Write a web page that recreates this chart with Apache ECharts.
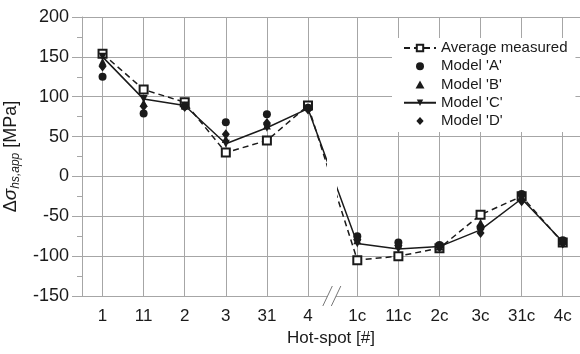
<!DOCTYPE html>
<html>
<head>
<meta charset="utf-8">
<script src="https://cdn.jsdelivr.net/npm/echarts@6.0.0/dist/echarts.min.js"></script>
<style>
html, body { margin: 0; padding: 0; background: #fff; }
#chart { width: 580px; height: 354px; }
</style>
</head>
<body>
<div id="chart"></div>
<script>
// hot-spots, first group then the "c" group (after the axis break)
var hotSpots = ['1', '11', '2', '3', '31', '4', '1c', '11c', '2c', '3c', '31c', '4c'];
var avgMeasured = [154, 109, 93, 30, 45, 89, -105, -100, -90, -48, -25, -83];
var modelA = [125, 79, 88, 68, 78, 86, -75, -83, -86, -64, -22, -80];
var modelB = [144, 92, 89, 47, 64, 87, -80, -86, -88, -58, -25, -81];
var modelC = [150, 97, 89, 41, 61, 85, -84, -91, -88, -67, -28, -82];
var modelD = [138, 88, 87, 53, 67, 84, -79, -87, -89, -71, -31, -84];

var BREAK_GAP = 0.2;   // extra space where the axis is broken
var BREAK_AT = 6.58;   // middle of the break, between '4' and '1c'
var xPos = hotSpots.map(function (name, i) {
    return i + 1 + (i >= 6 ? BREAK_GAP : 0);
});

function pairs(vals) {
    return vals.map(function (v, i) { return [xPos[i], v]; });
}

function labelFor(val) {
    var best = 0;
    for (var i = 1; i < xPos.length; i++) {
        if (Math.abs(xPos[i] - val) < Math.abs(xPos[best] - val)) best = i;
    }
    return hotSpots[best];
}

var ink = '#1a1a1a';
var gridColor = '#a6a6a6';
var font = 'Liberation Sans';

// legend icons as paths so they are not stretched to the item width
var triIcon = 'path://M5,0 L10,9 L0,9 Z';
var diaIcon = 'path://M5,0 L10,5.5 L5,11 L0,5.5 Z';

var chart = echarts.init(document.getElementById('chart'));

var option = {
    animation: false,
    grid: { left: 82, right: 0, top: 17, bottom: 58, outerBoundsMode: 'none' },
    legend: {
        orient: 'vertical',
        left: 392,
        top: 38,
        backgroundColor: '#fff',
        padding: [2, 8, 3, 11],
        itemWidth: 32,
        itemHeight: 8,
        itemGap: 2.25,
        textStyle: { fontSize: 15, lineHeight: 16, color: ink, fontFamily: font },
        data: [
            'Average measured',
            "Model 'A'",
            { name: "Model 'B'", icon: triIcon },
            "Model 'C'",
            { name: "Model 'D'", icon: diaIcon }
        ]
    },
    // hides the connecting lines inside the axis break
    visualMap: {
        show: false,
        dimension: 0,
        seriesIndex: [0, 3],
        pieces: [
            { lt: BREAK_AT - 0.12, color: ink },
            { gte: BREAK_AT - 0.12, lt: BREAK_AT + 0.12, color: 'rgba(255,255,255,0)' },
            { gte: BREAK_AT + 0.12, color: ink }
        ]
    },
    xAxis: {
        type: 'value',
        min: 0.5,
        max: 12.62,
        name: 'Hot-spot [#]',
        nameLocation: 'middle',
        nameGap: 33,
        nameTextStyle: { fontSize: 17, color: ink, fontFamily: font },
        axisLine: { show: true, lineStyle: { color: gridColor, width: 1 } },
        axisTick: { show: true, length: 10, customValues: xPos, lineStyle: { color: gridColor } },
        axisLabel: {
            customValues: xPos,
            margin: 12,
            fontSize: 17,
            color: ink,
            fontFamily: font,
            formatter: function (val) { return labelFor(val); }
        },
        splitLine: { show: true, lineStyle: { color: gridColor, width: 1 } }
    },
    yAxis: {
        type: 'value',
        min: -150,
        max: 200,
        interval: 50,
        name: '{n|Δ}{i|σ}{s|hs,app}{n| [MPa]}',
        nameLocation: 'middle',
        nameGap: 44,
        nameTextStyle: {
            color: ink,
            fontFamily: font,
            rich: {
                n: { fontSize: 18, color: ink, fontFamily: font, lineHeight: 22 },
                i: { fontSize: 19, fontStyle: 'italic', color: ink, fontFamily: font, lineHeight: 22 },
                s: { fontSize: 12, fontStyle: 'italic', color: ink, fontFamily: font, lineHeight: 13, verticalAlign: 'bottom' }
            }
        },
        axisLine: { show: true, lineStyle: { color: gridColor, width: 1 } },
        axisTick: { show: true, length: 10, lineStyle: { color: gridColor } },
        minorTick: { show: true, splitNumber: 2, length: 5, lineStyle: { color: gridColor } },
        axisLabel: { margin: 13, fontSize: 18, color: ink, fontFamily: font },
        splitLine: { show: true, lineStyle: { color: gridColor, width: 1 } }
    },
    series: [
        {
            name: 'Average measured',
            type: 'line',
            data: pairs(avgMeasured),
            symbol: 'emptyRect',
            symbolSize: 8,
            z: 1,
            itemStyle: { color: ink, borderWidth: 1 },
            lineStyle: { width: 1.5, type: [6, 4] }
        },
        {
            name: "Model 'A'",
            type: 'scatter',
            data: pairs(modelA),
            symbol: 'circle',
            symbolSize: 8,
            itemStyle: { color: ink, opacity: 1 }
        },
        {
            name: "Model 'B'",
            type: 'scatter',
            data: pairs(modelB),
            symbol: 'triangle',
            symbolSize: 8,
            itemStyle: { color: ink, opacity: 1 }
        },
        {
            name: "Model 'C'",
            type: 'line',
            data: pairs(modelC),
            symbol: 'triangle',
            symbolRotate: 180,
            symbolSize: 8,
            itemStyle: { color: ink },
            lineStyle: { width: 1.5 }
        },
        {
            name: "Model 'D'",
            type: 'scatter',
            data: pairs(modelD),
            symbol: 'diamond',
            symbolSize: [8, 10],
            itemStyle: { color: ink, opacity: 1 }
        }
    ]
};

chart.setOption(option);

// the "//" break mark on the bottom axis
var p = chart.convertToPixel({ gridIndex: 0 }, [BREAK_AT, -150]);
chart.setOption({
    graphic: [
        { type: 'rect', z: 10, shape: { x: p[0] - 4, y: p[1] - 2, width: 8, height: 4 }, style: { fill: '#fff' } },
        { type: 'line', z: 11, shape: { x1: p[0] - 9, y1: p[1] + 10, x2: p[0] + 0.5, y2: p[1] - 10 }, style: { stroke: '#777', lineWidth: 1 } },
        { type: 'line', z: 11, shape: { x1: p[0] - 0.5, y1: p[1] + 10, x2: p[0] + 9, y2: p[1] - 10 }, style: { stroke: '#777', lineWidth: 1 } }
    ]
});
</script>
</body>
</html>
